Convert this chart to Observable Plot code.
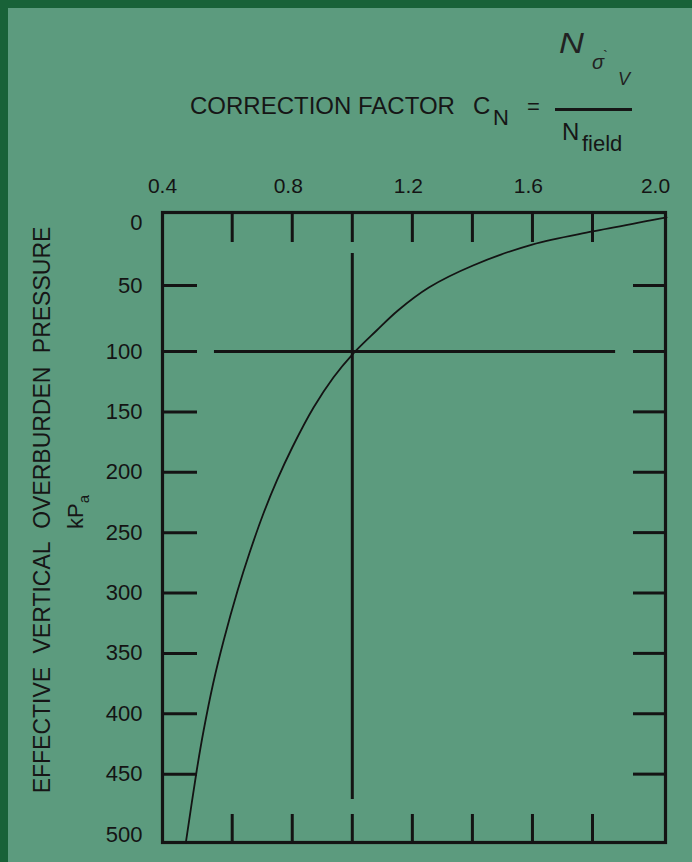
<!DOCTYPE html>
<html>
<head>
<meta charset="utf-8">
<script src="https://cdn.jsdelivr.net/npm/d3@7"></script>
<script src="https://cdn.jsdelivr.net/npm/@observablehq/plot@0.6"></script>
<style>
  html, body { margin: 0; padding: 0; background: #5c9b7e; }
  #page { position: relative; width: 692px; height: 862px; background: #5c9b7e; overflow: hidden;
          font-family: "Liberation Sans", Arial, Helvetica, sans-serif; color: #161616; }
  #header { position: relative; height: 160px; }
  .t { position: absolute; line-height: 1; white-space: nowrap; }
  .bar { position: absolute; background: #161616; }
  .rot { position: absolute; line-height: 1; white-space: nowrap; transform: translate(-50%, -50%) rotate(-90deg); }
  .bl { position: absolute; left: 0; top: 0; width: 8px; height: 862px; background: #186238; }
  .bt { position: absolute; left: 0; top: 0; width: 692px; height: 8px; background: #186238; }
</style>
</head>
<body>
<div id="page">
  <div id="header">
    <span class="t" style="left:190px; top:93.7px; font-size:24px;">CORRECTION FACTOR</span>
    <span class="t" style="left:473px; top:93.7px; font-size:24px;">C</span>
    <span class="t" style="left:493px; top:107.4px; font-size:22px;">N</span>
    <span class="t" style="left:527px; top:96.4px; font-size:22px;">=</span>
    <div class="bar" style="left:555px; top:107.5px; width:77px; height:3px;"></div>
    <span class="t" style="left:559px; top:28px; font-size:30px; font-style:italic; font-weight:300; color:#222; transform:scaleX(1.15); transform-origin:left;">N</span>
    <span class="t" style="left:592px; top:52px; font-size:20px; font-style:italic; color:#222;">σ</span>
    <span class="t" style="left:603px; top:48px; font-size:15px; color:#222;">`</span>
    <span class="t" style="left:618px; top:69.8px; font-size:18px; font-style:italic; font-weight:300; color:#222;">V</span>
    <span class="t" style="left:562px; top:119.7px; font-size:24px;">N</span>
    <span class="t" style="left:582px; top:133.4px; font-size:22px;">field</span>
  </div>
  <div id="chart"></div>
  <div class="rot" style="left:42px; top:510px; font-size:23px; word-spacing:7px;">EFFECTIVE VERTICAL OVERBURDEN PRESSURE</div>
  <div class="rot" style="left:76px; top:512px; font-size:22px;">kP<span style="font-size:15px; position:relative; top:6px;">a</span></div>
  <div class="bl"></div>
  <div class="bt"></div>
</div>
<script>
// ---- Data ----
// Tick label values
const xLabelTicks = [0.4, 0.8, 1.2, 1.6, 2.0];
const yLabelTicks = [0, 50, 100, 150, 200, 250, 300, 350, 400, 450, 500];
// Inner tick marks on the frame
const xMinorTicks = [0.6, 0.8, 1.0, 1.2, 1.4, 1.6, 1.8];
const yMinorTicks = [50, 100, 150, 200, 250, 300, 350, 400, 450];
// Correction-factor curve: C_N vs effective overburden pressure (kPa)
const curveCN = [0.459, 0.492, 0.513, 0.542, 0.574, 0.618, 0.657, 0.704, 0.749, 0.800, 0.871, 0.937, 1.000, 1.081, 1.152, 1.255, 1.402, 1.599, 1.800, 1.973, 2.021];
const curveP  = [506.6, 447.0, 413.9, 374.9, 339.3, 297.9, 267.3, 234.2, 206.8, 179.5, 146.4, 121.5, 102.5, 84.1,  68.9,  51.5,  34.1,  17.5,  7.1,   -1.6,  -4.1];
// Reference lines (C_N = 1.0 and pressure = 100 kPa)
const vRefCN = [1.0];
const vRefP = [24.6, 471];
const hRefP = [100];
const hRefCN = [0.546, 1.869];

const curve = curveCN.map((c, i) => ({cn: c, p: curveP[i]}));

const ink = "#141414";
const W = 692, H = 702;
const mT = 52, mB = 20, mL = 162, mR = 27;
const frameW = W - mL - mR, frameH = H - mT - mB;

const chart = Plot.plot({
  width: W,
  height: H,
  marginTop: mT,
  marginBottom: mB,
  marginLeft: mL,
  marginRight: mR,
  style: { background: "transparent", fontFamily: "'Liberation Sans', Arial, sans-serif", fontSize: "21px", color: ink },
  // the hand-drawn original's axes are slightly uneven; piecewise scales follow its tick positions
  x: { type: "linear", domain: [0.4, 0.6, 1.8, 2.0], range: [166, 231.7, 592, 659] },
  y: { type: "linear", domain: [0, 50, 100, 500], range: [62, 125, 191, 674] },
  marks: [
    Plot.frame({ stroke: ink, strokeWidth: 3.2 }),
    Plot.ruleX(xMinorTicks, { x: d => d, stroke: ink, strokeWidth: 3, insetBottom: frameH - 30 }),
    Plot.ruleX(xMinorTicks, { x: d => d, stroke: ink, strokeWidth: 3, insetTop: frameH - 28 }),
    Plot.ruleY(yMinorTicks, { y: d => d, stroke: ink, strokeWidth: 3, insetRight: frameW - 35 }),
    Plot.ruleY(yMinorTicks, { y: d => d, stroke: ink, strokeWidth: 3, insetLeft: frameW - 32 }),
    Plot.ruleX(vRefCN, { x: d => d, y1: vRefP[0], y2: vRefP[1], stroke: ink, strokeWidth: 3 }),
    Plot.ruleY(hRefP, { y: d => d, x1: hRefCN[0], x2: hRefCN[1], stroke: ink, strokeWidth: 3 }),
    Plot.line(curve, { x: "cn", y: "p", curve: "catmull-rom", stroke: ink, strokeWidth: 1.8 }),
    Plot.axisX({ anchor: "top", ticks: xLabelTicks, tickSize: 0, tickPadding: 20, dx: -4, tickFormat: d => d.toFixed(1), fontSize: 21, label: null }),
    Plot.axisY({ anchor: "left", ticks: yLabelTicks, tickSize: 0, tickPadding: 20, tickFormat: d => String(d), fontSize: 22, label: null })
  ]
});
document.getElementById("chart").appendChild(chart);
</script>
</body>
</html>
